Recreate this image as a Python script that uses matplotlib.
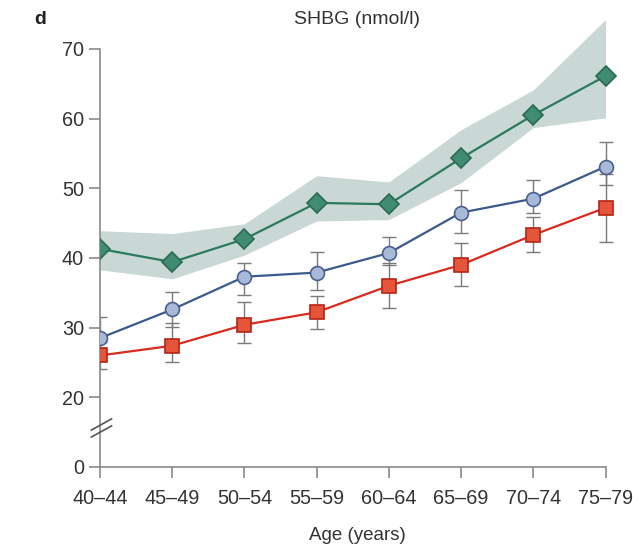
import numpy as np
import matplotlib
matplotlib.use('Agg')
from matplotlib import pyplot as plt

plt.rcParams['font.family'] = ['Liberation Sans', 'DejaVu Sans']

ages = ['40–44', '45–49', '50–54', '55–59', '60–64', '65–69', '70–74', '75–79']

# green series with shaded range
green = [41.3, 39.4, 42.7, 47.9, 47.7, 54.3, 60.5, 66.1]
green_hi = [43.9, 43.5, 44.9, 51.8, 50.9, 58.4, 64.1, 74.2]
green_lo = [38.3, 37.0, 40.4, 45.3, 45.5, 50.8, 58.7, 60.1]

# blue series (mean, lower, upper)
blue = [28.5, 32.6, 37.3, 37.9, 40.7, 46.5, 48.5, 53.1]
blue_lo = [26.0, 30.1, 34.7, 35.4, 39.0, 43.6, 46.5, 50.5]
blue_hi = [31.5, 35.1, 39.3, 40.8, 43.0, 49.8, 51.2, 56.7]

# red series (mean, lower, upper)
red = [26.0, 27.4, 30.4, 32.2, 36.0, 39.0, 43.3, 47.2]
red_lo = [24.0, 25.0, 27.8, 29.8, 32.8, 35.9, 40.9, 42.3]
red_hi = [28.0, 30.7, 33.7, 34.6, 39.2, 42.1, 45.9, 52.0]

yticks = [20, 30, 40, 50, 60, 70]

x = np.arange(len(ages))

fig = plt.figure(figsize=(6.4, 5.48), dpi=100)
ax = fig.add_axes([100 / 640, 81 / 548, 525 / 640, 453 / 548])

ax.fill_between(x, green_lo, green_hi, color='#c9d8d4', lw=0, zorder=1)

err_kw = dict(fmt='none', ecolor='#7a7a7a', elinewidth=1.0, capsize=5, capthick=1.0, zorder=2)
ax.errorbar(x, blue, yerr=[np.subtract(blue, blue_lo), np.subtract(blue_hi, blue)], **err_kw)
ax.errorbar(x, red, yerr=[np.subtract(red, red_lo), np.subtract(red_hi, red)], **err_kw)

ax.plot(x, green, '-D', color='#2a7a5f', lw=1.6, ms=10, mfc='#3f8c70', mec='#2a6a54', mew=1.2, zorder=4)
ax.plot(x, blue, '-o', color='#3b5a8c', lw=1.6, ms=10, mfc='#a9b9d8', mec='#4a6090', mew=1.2, zorder=4)
ax.plot(x, red, '-s', color='#d92a1f', lw=1.6, ms=9.5, mfc='#e4553c', mec='#b52415', mew=1.2, zorder=4)

ax.set_xlim(0, 7.27)
ax.set_ylim(10, 75)
ax.set_xticks(x)
ax.set_xticklabels(ages)
ax.set_yticks([10] + yticks)
ax.set_yticklabels(['0'] + [str(t) for t in yticks])

for s in ['top', 'right']:
    ax.spines[s].set_visible(False)
ax.spines['left'].set_bounds(10, 70)
ax.spines['bottom'].set_bounds(0, 7)
for s in ['left', 'bottom']:
    ax.spines[s].set_color('#8a8a8a')
    ax.spines[s].set_linewidth(1.2)
ax.tick_params(colors='#8a8a8a', width=1.2, length=8, labelsize=14.3, labelcolor='#333333')
ax.tick_params(axis='x', pad=8)

# axis break marks
for dy in [0, 1.0]:
    ax.plot([-0.12, 0.16], [14.3 + dy, 15.9 + dy], color='#555555', lw=1.2, clip_on=False, zorder=5)

fig.text(357 / 640, 1 - 19 / 548, 'SHBG (nmol/l)', ha='center', va='center', fontsize=14, color='#333333')
fig.text(40 / 640, 1 - 19 / 548, 'd', ha='center', va='center', fontsize=14, fontweight='bold', color='#222222')
fig.text(357 / 640, 1 - 535 / 548, 'Age (years)', ha='center', va='center', fontsize=13.5, color='#333333')

fig.savefig('out.png', dpi=100)
